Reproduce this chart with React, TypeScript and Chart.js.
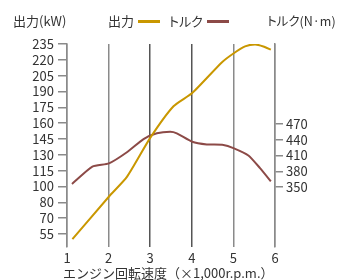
import React, { useEffect, useRef } from "react";
import { Chart, registerables } from "chart.js";

Chart.register(...registerables);

const powerRpm = [1.13, 2.0, 2.44, 3.0, 3.56, 4.01, 4.72, 5.0, 5.28, 5.52, 5.72, 5.9];
const powerKw = [50, 90, 109, 146, 176, 188.5, 217.5, 226, 232.7, 234.6, 232.7, 229.6];

const torqueRpm = [1.12, 1.61, 2.01, 2.44, 2.84, 3.16, 3.48, 3.64, 4.01, 4.36, 4.76, 5.0, 5.36, 5.64, 5.9];
const torqueNm = [356, 389, 395, 416, 441, 452, 455, 452, 436, 431, 430, 424, 410, 386, 361];

const leftTickValues = [55, 70, 85, 100, 115, 130, 145, 160, 175, 190, 205, 220, 235];
const leftTickLabels = ["55", "70", "80", "100", "115", "130", "145", "160", "175", "190", "205", "220", "235"];
const rightTickValues = [350, 380, 410, 440, 470];
const xTickValues = [1, 2, 3, 4, 5, 6];

const powerLabel = "出力";
const torqueLabel = "トルク";
const leftTitle = "出力(kW)";
const rightTitle = "トルク(N·m)";
const xTitle = "エンジン回転速度（×1,000r.p.m.）";

const GOLD = "#C99700";
const BROWN = "#8C4A47";
const TEXT = "#333333";
const AXIS = "#8a8a8a";
const FONT = "'Noto Sans CJK JP', 'Noto Sans', sans-serif";

export default function App() {
  const ref = useRef<HTMLCanvasElement>(null);

  useEffect(() => {
    if (!ref.current) return;
    const chart = new Chart(ref.current, {
      type: "line",
      data: {
        datasets: [
          {
            label: powerLabel,
            data: powerRpm.map((x, i) => ({ x, y: powerKw[i] })),
            borderColor: GOLD,
            borderWidth: 2,
            pointRadius: 0,
            tension: 0.2,
            yAxisID: "y",
          },
          {
            label: torqueLabel,
            data: torqueRpm.map((x, i) => ({ x, y: torqueNm[i] })),
            borderColor: BROWN,
            borderWidth: 2,
            pointRadius: 0,
            tension: 0.2,
            yAxisID: "y2",
          },
        ],
      },
      options: {
        animation: false,
        responsive: false,
        layout: { padding: { top: 44, left: 0, right: 0, bottom: 0 } },
        plugins: { legend: { display: false }, tooltip: { enabled: false } },
        scales: {
          x: {
            type: "linear",
            min: 1,
            max: 6,
            afterBuildTicks: (s: any) => {
              s.ticks = xTickValues.map((v) => ({ value: v }));
            },
            afterFit: (s: any) => {
              s.height = 33;
            },
            border: { display: false },
            grid: {
              drawTicks: false,
              lineWidth: 1.5,
              color: (c: any) => (c.tick && (c.tick.value === 3 || c.tick.value === 4) ? "#555555" : AXIS),
            },
            ticks: { color: TEXT, font: { family: FONT, size: 13 }, padding: 3, maxRotation: 0, autoSkip: false },
          },
          y: {
            type: "linear",
            position: "left",
            min: 42.6,
            max: 235,
            afterBuildTicks: (s: any) => {
              s.ticks = leftTickValues.map((v) => ({ value: v }));
            },
            afterFit: (s: any) => {
              s.width = 67;
            },
            border: { display: true, color: AXIS, width: 1.5 },
            grid: { drawOnChartArea: false, tickLength: 9, color: AXIS, lineWidth: 1.5 },
            ticks: {
              color: TEXT,
              font: { family: FONT, size: 13 },
              padding: 4,
              autoSkip: false,
              callback: (v: any) => {
                const i = leftTickValues.indexOf(Number(v));
                return i >= 0 ? leftTickLabels[i] : "";
              },
            },
          },
          y2: {
            type: "linear",
            position: "right",
            min: 236.5,
            max: 621.3,
            afterBuildTicks: (s: any) => {
              s.ticks = rightTickValues.map((v) => ({ value: v }));
            },
            afterFit: (s: any) => {
              s.width = 62;
            },
            border: { display: true, color: AXIS, width: 1.5 },
            grid: { drawOnChartArea: false, tickLength: 8, color: AXIS, lineWidth: 1.5 },
            ticks: { color: TEXT, font: { family: FONT, size: 13 }, padding: 3, autoSkip: false },
          },
        },
      },
    });
    return () => chart.destroy();
  }, []);

  const textStyle: React.CSSProperties = {
    position: "absolute",
    top: 13,
    fontFamily: FONT,
    fontSize: 13,
    lineHeight: "16px",
    color: TEXT,
    whiteSpace: "nowrap",
    fontFeatureSettings: "'palt'",
  };
  const lineStyle = (left: number, color: string): React.CSSProperties => ({
    position: "absolute",
    left,
    top: 20,
    width: 22,
    height: 3,
    background: color,
  });

  return (
    <div style={{ position: "fixed", left: 0, top: 0, width: 337, height: 280, background: "#fff" }}>
      <canvas ref={ref} width={337} height={280} style={{ position: "absolute", left: 0, top: 0, width: 337, height: 280 }} />
      <span style={{ ...textStyle, left: 13 }}>{leftTitle}</span>
      <span style={{ ...textStyle, left: 108 }}>{powerLabel}</span>
      <div style={lineStyle(138, GOLD)} />
      <span style={{ ...textStyle, left: 169 }}>{torqueLabel}</span>
      <div style={lineStyle(207, BROWN)} />
      <span style={{ ...textStyle, left: 267, fontSize: 12.5 }}>{rightTitle}</span>
      <span style={{ ...textStyle, left: 63, top: 265, fontFeatureSettings: "normal" }}>{xTitle}</span>
    </div>
  );
}
